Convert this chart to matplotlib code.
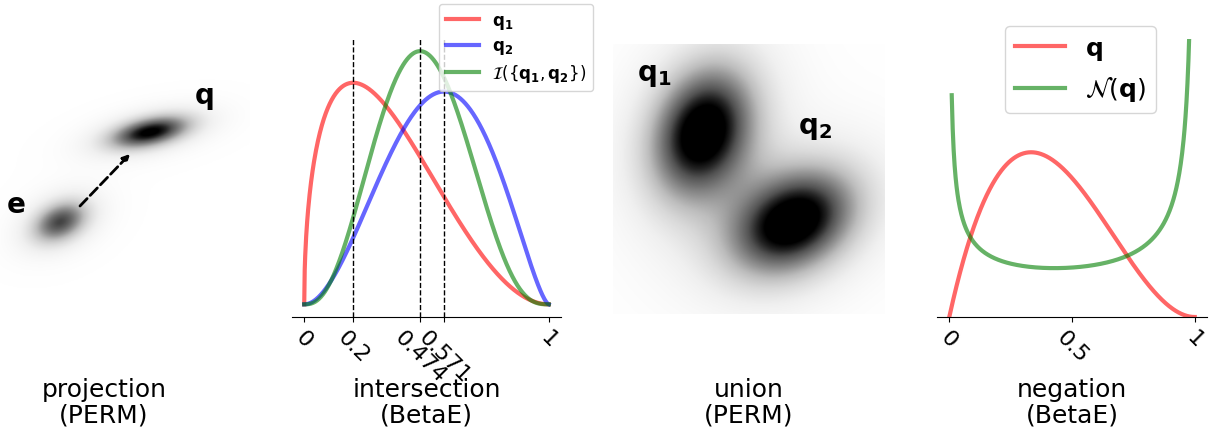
import math
import numpy as np
import matplotlib
matplotlib.use("Agg")
import matplotlib.pyplot as plt

# beta parameters (alpha, beta)
q1_ab = (1.5, 3.0)
q2_ab = (3.0, 2.5)
inter_ab = (3.7, 4.0)
neg_q_ab = (2.0, 3.0)
neg_nq_ab = (1 / 2.0, 1 / 3.0)
modes = [0.2, 0.474, 0.571]
inter_ticks = [0, 0.2, 0.474, 0.571, 1]
inter_ticklabels = ["0", "0.2", "0.474", "0.571", "1"]
neg_ticks = [0, 0.5, 1]
neg_ticklabels = ["0", "0.5", "1"]

# blobs: (mean x, mean y, scale major, scale minor, angle deg, weight)
proj_blobs = {"e": (2.4, 3.68, 0.78, 0.50, 25, 0.75),
              "q": (6.0, 7.28, 1.05, 0.37, 12, 1.0)}
union_blobs = {"q1": (3.31, 6.74, 1.60, 1.15, 70, 1.0),
               "q2": (6.62, 3.41, 1.58, 1.12, 30, 1.0)}

panel_titles = ["projection\n(PERM)", "intersection\n(BetaE)",
                "union\n(PERM)", "negation\n(BetaE)"]


def beta_pdf(x, a, b):
    B = math.gamma(a) * math.gamma(b) / math.gamma(a + b)
    return x ** (a - 1) * (1 - x) ** (b - 1) / B


def blob(X, Y, mx, my, sa, sb, ang, w, nu=4):
    # soft elliptical bump with slightly heavy tails
    t = np.deg2rad(ang)
    dx, dy = X - mx, Y - my
    u = dx * np.cos(t) + dy * np.sin(t)
    v = -dx * np.sin(t) + dy * np.cos(t)
    r2 = (u / sa) ** 2 + (v / sb) ** 2
    return w * (1 + r2 / (2 * nu)) ** (-nu)


W, H = 1209, 431
fig = plt.figure(figsize=(W / 100, H / 100), dpi=100)


def px_axes(x0, y0, x1, y1):
    return fig.add_axes([x0 / W, 1 - y1 / H, (x1 - x0) / W, (y1 - y0) / H])


# panel 1: projection
ax1 = px_axes(0, 45, 250, 315)
gx, gy = np.meshgrid(np.linspace(0, 10, 400), np.linspace(0, 10.8, 430))
img = sum(blob(gx, gy, *p) for p in proj_blobs.values())
ax1.imshow(img, cmap="Greys", vmin=0, vmax=0.95, origin="lower",
           extent=[0, 10, 0, 10.8], aspect="auto", interpolation="bilinear")
ax1.annotate("", xy=(5.2, 6.4), xytext=(3.2, 4.32),
             arrowprops=dict(arrowstyle="-|>", ls="--", lw=2, color="black",
                             mutation_scale=10, shrinkA=0, shrinkB=0))
ax1.text(0.28, 4.08, "e", fontsize=20, fontweight="bold")
ax1.text(7.8, 8.44, "q", fontsize=20, fontweight="bold")
ax1.set_xlim(0, 10)
ax1.set_ylim(0, 10.8)
ax1.axis("off")

# panel 2: intersection
ax2 = px_axes(292, 39.5, 561, 318)
x = np.linspace(0, 1, 500)
ax2.plot(x, beta_pdf(x, *q1_ab), color="red", lw=3, alpha=0.6,
         label=r"$\mathbf{q_1}$")
ax2.plot(x, beta_pdf(x, *q2_ab), color="blue", lw=3, alpha=0.6,
         label=r"$\mathbf{q_2}$")
ax2.plot(x, beta_pdf(x, *inter_ab), color="green", lw=3, alpha=0.6,
         label=r"$\mathcal{I}(\{\mathbf{q_1},\mathbf{q_2}\})$")
for m in modes:
    ax2.axvline(m, color="black", ls="--", lw=1)
ax2.set_xticks(inter_ticks)
ax2.set_xticklabels(inter_ticklabels, rotation=-45, fontsize=16)
ax2.legend(loc="upper right", bbox_to_anchor=(1.119, 1.124), fontsize=12,
           borderaxespad=0, labelspacing=0.35)

# panel 3: union
ax3 = px_axes(613, 45, 885, 315)
gx, gy = np.meshgrid(np.linspace(0, 10, 300), np.linspace(0, 10, 300))
img = sum(blob(gx, gy, *p) for p in union_blobs.values())
ax3.imshow(img, cmap="Greys", vmin=0, vmax=0.82, origin="lower",
           extent=[0, 10, 0, 10], aspect="auto", interpolation="bilinear")
ax3.text(0.88, 8.67, r"$\mathbf{q_1}$", fontsize=20)
ax3.text(6.8, 6.7, r"$\mathbf{q_2}$", fontsize=20)
ax3.axis("off")

# panel 4: negation
ax4 = px_axes(937, 40, 1207, 318)
xr = np.linspace(0, 1, 500)
xg = np.linspace(0.01, 0.99, 500)
ax4.plot(xr, beta_pdf(xr, *neg_q_ab), color="red", lw=3, alpha=0.6,
         label=r"$\mathbf{q}$")
ax4.plot(xg, beta_pdf(xg, *neg_nq_ab), color="green", lw=3, alpha=0.6,
         label=r"$\mathcal{N}(\mathbf{q})$")
ax4.set_ylim(0, 3)
ax4.set_xticks(neg_ticks)
ax4.set_xticklabels(neg_ticklabels, rotation=-45, fontsize=16)
ax4.legend(loc="upper center", bbox_to_anchor=(0.531, 1.047), fontsize=18,
           borderaxespad=0)

for ax in (ax2, ax4):
    for s in ("left", "right", "top"):
        ax.spines[s].set_visible(False)
    ax.set_yticks([])

centers = [104, 426.5, 749, 1072]
for cx, t in zip(centers, panel_titles):
    fig.text(cx / W, 1 - 403 / H, t, ha="center", va="center", fontsize=18,
             linespacing=1.1)

fig.savefig("out.png", dpi=100)
